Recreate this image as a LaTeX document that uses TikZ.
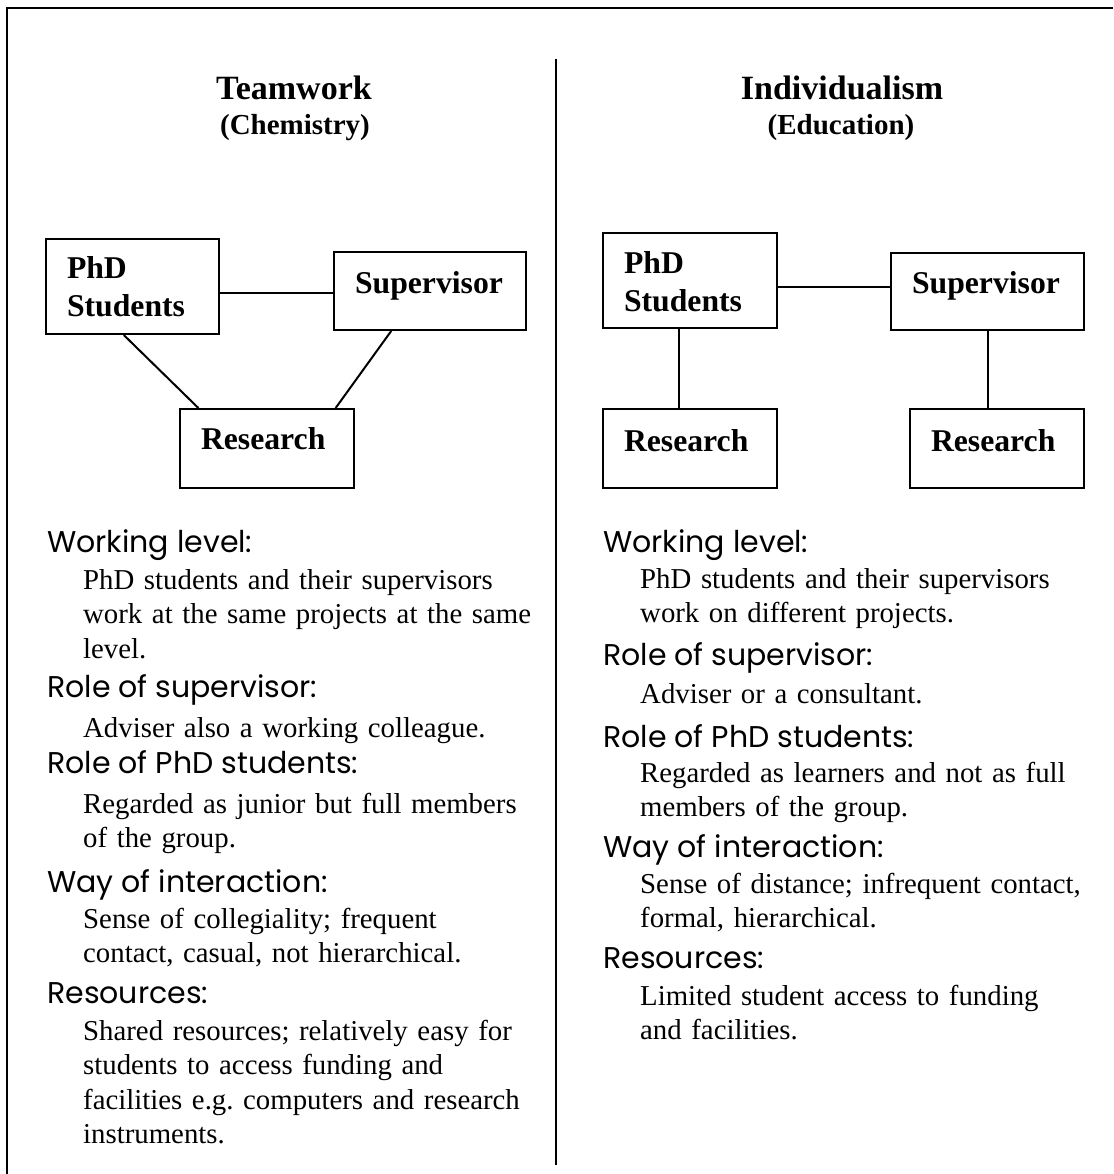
\documentclass[tikz,border=0pt]{standalone}
\usepackage{fontspec}
\setmainfont{Liberation Serif}
\newfontfamily\headfont{Poppins}
\usepackage{tikz}
\usetikzlibrary{positioning, calc}

\tikzset{
  box/.style={draw, line width=2pt, rectangle, anchor=north west, inner xsep=21pt, inner ysep=0pt,
    align=left, font=\fontsize{31.7}{38}\selectfont\bfseries},
  link/.style={line width=2pt},
  title/.style={anchor=base, inner sep=0pt, font=\fontsize{34}{40}\selectfont\bfseries},
  subtitle/.style={anchor=base, inner sep=0pt, font=\fontsize{29}{34}\selectfont\bfseries},
  head/.style={anchor=base west, inner sep=0pt, font=\headfont\fontsize{30}{34}\selectfont},
  body/.style={anchor=base west, inner sep=0pt, text width=470pt, align=left,
    font=\frenchspacing\fontsize{28.8}{34.5}\selectfont}
}

\begin{document}
\begin{tikzpicture}[x=1pt, y=-1pt]
  \useasboundingbox (0,0) rectangle (1113,1174);
  % frame and divider
  \draw[line width=2.5pt] (1113,8) -| (7,1174);
  \coordinate (divtop) at (556,59);
  \coordinate (divbot) at (556,1165);
  \draw[link] (divtop) -- (divbot);

  % left: teamwork
  \node[title] (titleL) at (294,100) {Teamwork};
  \node[subtitle] (subL) at (295,135) {(Chemistry)};

  \node[box, text width=131pt, text height=39pt, text depth=56pt] (phdL) at (45,238) {PhD\\Students};
  \node[box, text width=150pt, text height=41pt, text depth=37pt] (supL) at (333,251) {Supervisor};
  \node[box, text width=132pt, text height=40pt, text depth=39pt] (resL) at (179,408) {Research};

  \draw[link] (phdL.east |- 0,293) -- (supL.west |- 0,293);
  \draw[link] ($(phdL.south west)!0.45!(phdL.south east)$) -- ($(resL.north west)!0.11!(resL.north east)$);
  \draw[link] ($(supL.south west)!0.30!(supL.south east)$) -- ($(resL.north west)!0.89!(resL.north east)$);

  \node[head] (wlL) at (47,552) {Working level:};
  \node[body] (wlLtxt) at (83,589) {PhD students and their supervisors\\work at the same projects at the same\\level.};
  \node[head] (rsL) at (47,697) {Role of supervisor:};
  \node[body] (rsLtxt) at (83,737) {Adviser also a working colleague.};
  \node[head] (rpL) at (47,773) {Role of PhD students:};
  \node[body] (rpLtxt) at (83,813) {Regarded as junior but full members\\of the group.};
  \node[head] (wiL) at (47,892) {Way of interaction:};
  \node[body] (wiLtxt) at (83,928) {Sense of collegiality; frequent\\contact, casual, not hierarchical.};
  \node[head] (reL) at (47,1003) {Resources:};
  \node[body] (reLtxt) at (83,1040) {Shared resources; relatively easy for\\students to access funding and\\facilities e.g. computers and research\\instruments.};

  % right: individualism
  \node[title] (titleR) at (842,100) {Individualism};
  \node[subtitle] (subR) at (841,135) {(Education)};

  \node[box, text width=132pt, text height=40pt, text depth=55pt] (phdR) at (602,232) {PhD\\Students};
  \node[box, text width=151pt, text height=40pt, text depth=37pt] (supR) at (890,252) {Supervisor};
  \node[box, text width=132pt, text height=42pt, text depth=37pt] (resRa) at (602,408) {Research};
  \node[box, text width=132pt, text height=42pt, text depth=37pt] (resRb) at (909,408) {Research};

  \coordinate (phdRfoot) at ($(phdR.south west)!0.44!(phdR.south east)$);
  \draw[link] (phdR.east |- 0,287) -- (supR.west |- 0,287);
  \draw[link] (phdRfoot) -- (phdRfoot |- resRa.north);
  \draw[link] (supR.south) -- (supR.south |- resRb.north);

  \node[head] (wlR) at (603,552) {Working level:};
  \node[body] (wlRtxt) at (640,588) {PhD students and their supervisors\\work on different projects.};
  \node[head] (rsR) at (603,665) {Role of supervisor:};
  \node[body] (rsRtxt) at (640,703) {Adviser or a consultant.};
  \node[head] (rpR) at (603,747) {Role of PhD students:};
  \node[body] (rpRtxt) at (640,782) {Regarded as learners and not as full\\members of the group.};
  \node[head] (wiR) at (603,857) {Way of interaction:};
  \node[body] (wiRtxt) at (640,893) {Sense of distance; infrequent contact,\\formal, hierarchical.};
  \node[head] (reR) at (603,968) {Resources:};
  \node[body] (reRtxt) at (640,1005) {Limited student access to funding\\and facilities.};
\end{tikzpicture}
\end{document}
